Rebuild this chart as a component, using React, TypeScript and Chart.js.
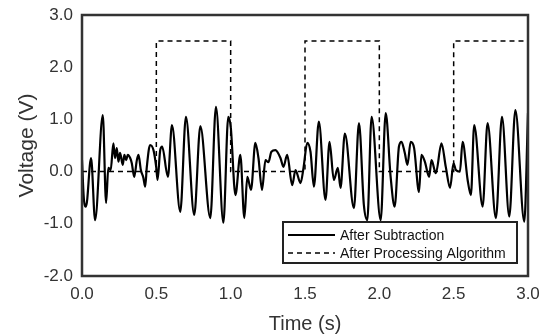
import React, { useEffect, useRef } from "react";
import { Chart, registerables } from "chart.js";

Chart.register(...registerables);

// Solid trace: "After Subtraction"
const timeS = [
  0.0, 0.013, 0.027, 0.061, 0.088, 0.14, 0.162, 0.177, 0.193, 0.211, 0.222, 0.234, 0.245, 0.256, 0.274,
  0.285, 0.297, 0.308, 0.324, 0.335, 0.351, 0.369, 0.38, 0.396, 0.413, 0.425, 0.436, 0.458, 0.481, 0.499,
  0.508, 0.526, 0.539, 0.578, 0.605, 0.661, 0.699, 0.755, 0.796, 0.863, 0.901, 0.951, 0.984, 1.001, 1.032,
  1.065, 1.092, 1.112, 1.137, 1.166, 1.187, 1.211, 1.234, 1.254, 1.274, 1.301, 1.335, 1.355, 1.38, 1.414,
  1.436, 1.47, 1.49, 1.515, 1.537, 1.56, 1.593, 1.638, 1.665, 1.694, 1.721, 1.739, 1.768, 1.829, 1.863,
  1.896, 1.919, 1.948, 2.009, 2.043, 2.076, 2.103, 2.132, 2.149, 2.171, 2.189, 2.211, 2.234, 2.267, 2.283,
  2.306, 2.335, 2.351, 2.38, 2.418, 2.447, 2.476, 2.499, 2.515, 2.542, 2.56, 2.594, 2.616, 2.638, 2.695,
  2.728, 2.784, 2.825, 2.874, 2.915, 2.975, 3.0,
];
const afterSubtraction = [
  0.22, -0.54, -0.67, 0.26, -0.93, 1.08, -0.6, 0.07, 0.03, 0.54, 0.26, 0.45, 0.19, 0.36, 0.13,
  0.32, 0.22, 0.32, 0.26, 0.16, -0.1, 0.22, 0.32, 0.03, -0.12, -0.29, 0.09, 0.51, 0.41, 0.09,
  -0.16, 0.41, 0.48, -0.1, 0.89, -0.77, 1.05, -0.83, 0.87, -0.89, 1.24, -0.98, 1.05, 0.84, -0.45,
  0.32, -0.89, -0.1, -0.35, 0.55, 0.26, -0.35, 0.22, 0.18, 0.38, 0.41, 0.26, 0.09, 0.32, -0.26,
  0.03, -0.22, 0.07, 0.55, 0.38, -0.29, 0.96, -0.54, 0.57, -0.16, 0.07, -0.31, 0.73, -0.7, 0.93,
  -0.64, -0.93, 1.05, -0.93, 1.12, -0.1, -0.67, 0.48, 0.57, 0.36, 0.13, 0.57, 0.45, -0.39, 0.32,
  0.19, -0.1, 0.22, -0.03, 0.54, 0.09, -0.31, 0.16, 0.03, 0.0, 0.57, -0.16, -0.45, 0.89, -0.67,
  0.93, -0.89, 1.05, -0.86, 1.18, -0.96, 1.12,
];

// Dashed trace: "After Processing Algorithm"
const pulseTime = [0, 0.5, 0.5, 1.0, 1.0, 1.5, 1.5, 2.0, 2.0, 2.5, 2.5, 3.0];
const pulseValue = [0, 0, 2.5, 2.5, 0, 0, 2.5, 2.5, 0, 0, 2.5, 2.5];

const seriesLabels = ["After Subtraction", "After Processing Algorithm"];
const xTickValues = [0, 0.5, 1.0, 1.5, 2.0, 2.5, 3.0];
const yTickValues = [-2, -1, 0, 1, 2, 3];

const FONT = '"Liberation Sans", Arial, sans-serif';
const TEXT = "#333333";

const framePlugin = {
  id: "frame",
  afterDatasetsDraw(chart: any) {
    const { ctx, chartArea: a } = chart;
    ctx.save();
    ctx.strokeStyle = "#333333";
    ctx.lineWidth = 2.5;
    ctx.strokeRect(a.left, a.top, a.right - a.left, a.bottom - a.top);
    ctx.restore();
  },
};

const boxLegendPlugin = {
  id: "boxLegend",
  afterDraw(chart: any) {
    const { ctx, chartArea: a } = chart;
    const w = 234;
    const h = 41;
    const x = a.right - 11 - w;
    const y = a.bottom - 13 - h;
    ctx.save();
    ctx.fillStyle = "#ffffff";
    ctx.fillRect(x, y, w, h);
    ctx.strokeStyle = "#222222";
    ctx.lineWidth = 2;
    ctx.strokeRect(x, y, w, h);
    chart.data.datasets.forEach((ds: any, i: number) => {
      const cy = y + 13 + i * 18;
      ctx.beginPath();
      ctx.setLineDash(ds.borderDash || []);
      ctx.lineWidth = ds.borderWidth;
      ctx.strokeStyle = ds.borderColor;
      ctx.moveTo(x + 5, cy);
      ctx.lineTo(x + 52, cy);
      ctx.stroke();
      ctx.setLineDash([]);
      ctx.fillStyle = "#111111";
      ctx.font = `14px ${FONT}`;
      ctx.textBaseline = "middle";
      ctx.textAlign = "left";
      ctx.fillText(ds.label, x + 57, cy + 1);
    });
    ctx.restore();
  },
};

export default function App() {
  const ref = useRef<HTMLCanvasElement | null>(null);

  useEffect(() => {
    if (!ref.current) return;
    const chart = new Chart(ref.current, {
      type: "line",
      data: {
        datasets: [
          {
            label: seriesLabels[0],
            data: timeS.map((t, i) => ({ x: t, y: afterSubtraction[i] })),
            borderColor: "#000000",
            borderWidth: 2.2,
            pointRadius: 0,
            cubicInterpolationMode: "monotone",
            fill: false,
          },
          {
            label: seriesLabels[1],
            data: pulseTime.map((t, i) => ({ x: t, y: pulseValue[i] })),
            borderColor: "#000000",
            borderWidth: 1.5,
            borderDash: [5, 4],
            pointRadius: 0,
            tension: 0,
            fill: false,
          },
        ],
      },
      options: {
        animation: false,
        responsive: false,
        devicePixelRatio: 1,
        layout: { padding: { left: 0, top: 15, right: 21, bottom: 0 } },
        plugins: {
          legend: { display: false },
          tooltip: { enabled: false },
        },
        scales: {
          x: {
            type: "linear",
            min: 0,
            max: 3,
            afterBuildTicks: (s: any) => {
              s.ticks = xTickValues.map((v) => ({ value: v }));
            },
            afterFit: (s: any) => {
              s.height = 60;
              s.paddingLeft = 0;
              s.paddingRight = 0;
            },
            grid: { display: false, drawTicks: false },
            border: { display: false },
            ticks: {
              padding: 8,
              color: TEXT,
              font: { family: FONT, size: 17 },
              callback: (v: any) => Number(v).toFixed(1),
            },
            title: {
              display: true,
              text: "Time (s)",
              color: TEXT,
              font: { family: FONT, size: 20 },
              padding: { top: 2, bottom: 0 },
            },
          },
          y: {
            type: "linear",
            min: -2,
            max: 3,
            afterBuildTicks: (s: any) => {
              s.ticks = yTickValues.map((v) => ({ value: v }));
            },
            afterFit: (s: any) => {
              s.width = 82;
              s.paddingTop = 0;
              s.paddingBottom = 0;
            },
            grid: { display: false, drawTicks: false },
            border: { display: false },
            ticks: {
              padding: 9,
              color: TEXT,
              font: { family: FONT, size: 17 },
              callback: (v: any) => Number(v).toFixed(1),
            },
            title: {
              display: true,
              text: "Voltage (V)",
              color: TEXT,
              font: { family: FONT, size: 21 },
              padding: { top: 15, bottom: 0 },
            },
          },
        },
      },
      plugins: [framePlugin, boxLegendPlugin],
    });
    return () => chart.destroy();
  }, []);

  return (
    <div style={{ position: "fixed", left: 0, top: 0, width: 549, height: 336, background: "#fff" }}>
      <canvas ref={ref} width={549} height={336} style={{ width: 549, height: 336, display: "block" }} />
    </div>
  );
}
